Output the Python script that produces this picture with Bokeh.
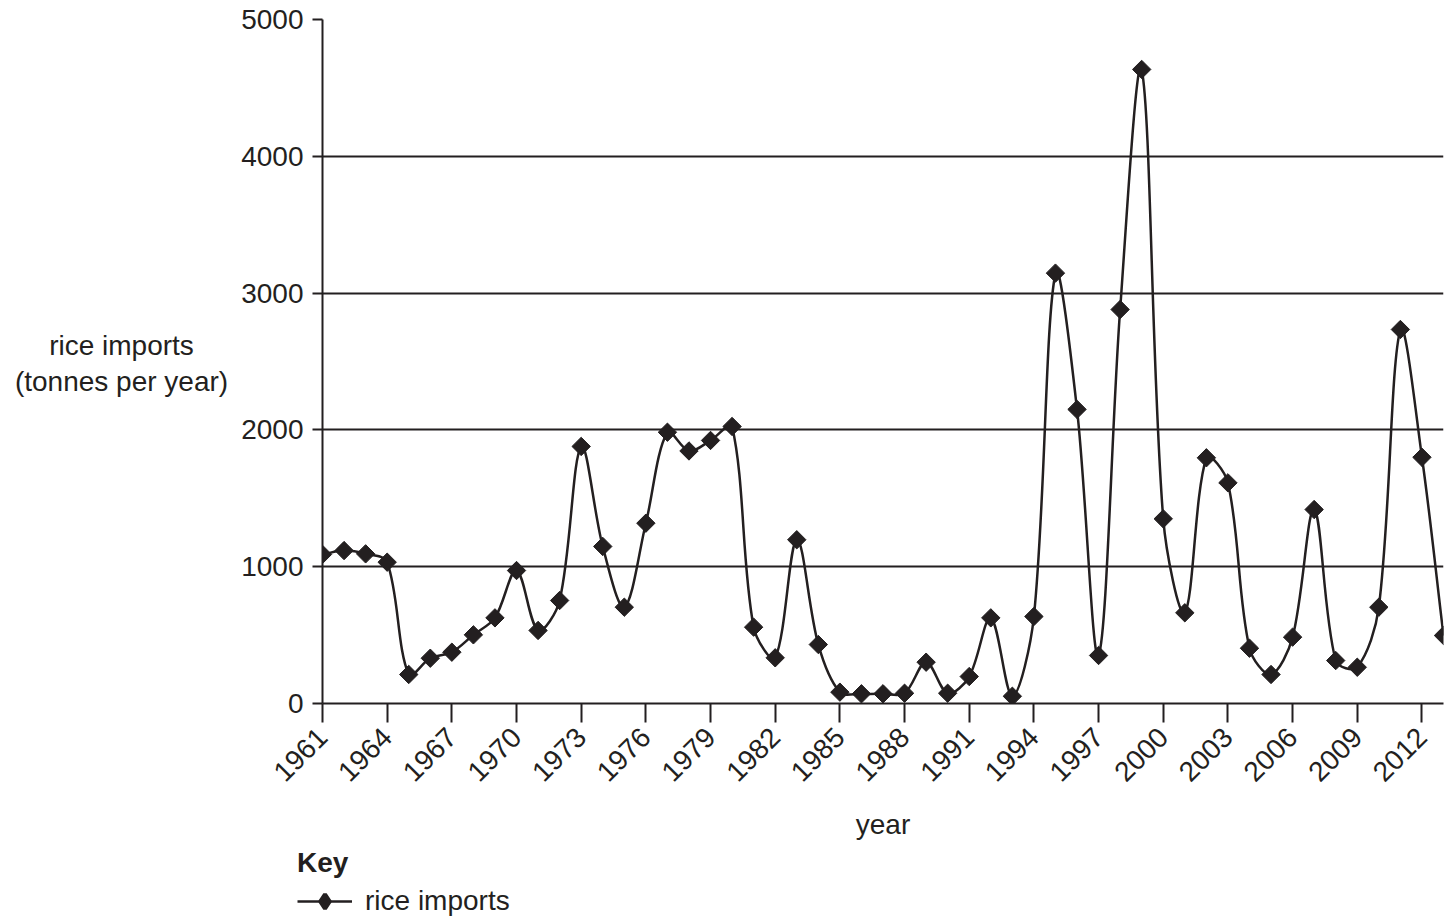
import numpy as np
from bokeh.plotting import figure
from bokeh.layouts import column, row
from bokeh.models import FixedTicker, Legend, LegendItem, Label, Range1d, ColumnDataSource
from bokeh.embed import file_html
from bokeh.resources import INLINE

# ---- data ----
years = list(range(1961, 2014))
rice_imports = [1090, 1118, 1094, 1033, 212, 331, 375, 502, 626, 972,
                534, 753, 1879, 1148, 704, 1318, 1983, 1846, 1923, 2025,
                558, 334, 1197, 431, 83, 71, 71, 75, 302, 75,
                197, 626, 53, 636, 3146, 2150, 351, 2880, 4635, 1350,
                663, 1796, 1613, 404, 212, 485, 1418, 314, 265, 704,
                2734, 1800, 497]
x_tick_years = list(range(1961, 2013, 3))
y_ticks = [0, 1000, 2000, 3000, 4000, 5000]
series_name = "rice imports"
x_title = "year"
y_title_lines = ["rice imports", "(tonnes per year)"]
key_title = "Key"

INK = "#231f20"
FONT = "Liberation Sans"
FS = "28px"

W = 1447
H_MAIN, H_KEY = 847, 72
W_YLAB = 238
FL, FT, FB, FR = 322, 19, 703, 1443   # frame edges in page pixels


def clean(fig):
    fig.outline_line_color = None
    fig.background_fill_color = "white"
    fig.border_fill_color = "white"


# ---- y-axis title panel (horizontal, centred two-line title) ----
ylab = figure(width=W_YLAB, height=H_MAIN, output_backend="svg", toolbar_location=None,
              x_axis_location=None, y_axis_location=None,
              x_range=Range1d(0, 1), y_range=Range1d(0, 1),
              min_border_left=0, min_border_right=0, min_border_top=FT,
              min_border_bottom=H_MAIN - FB)
clean(ylab)
ylab.grid.visible = False
for txt, yy in zip(y_title_lines, [FB - 345, FB - 381]):
    ylab.add_layout(Label(x=121, y=yy, x_units="screen", y_units="screen", text=txt,
                          text_align="center", text_baseline="middle",
                          text_font=FONT, text_font_size=FS, text_color=INK))

# ---- main chart ----
p = figure(width=W - W_YLAB, height=H_MAIN, output_backend="svg", toolbar_location=None,
           x_range=Range1d(1961, 2013), y_range=Range1d(0, 5000),
           min_border_left=60, min_border_right=W - FR, min_border_top=FT,
           min_border_bottom=H_MAIN - FB)
clean(p)

p.xgrid.visible = False
p.ygrid.ticker = FixedTicker(ticks=y_ticks)
p.ygrid.grid_line_color = INK
p.ygrid.grid_line_width = 2

for ax in (p.xaxis[0], p.yaxis[0]):
    ax.axis_line_color = INK
    ax.axis_line_width = 2
    ax.major_tick_line_color = INK
    ax.major_tick_line_width = 2
    ax.minor_tick_line_color = None
    ax.major_tick_in = 0
    ax.major_label_text_font = FONT
    ax.major_label_text_font_size = FS
    ax.major_label_text_color = INK
    ax.axis_label_text_font = FONT
    ax.axis_label_text_font_size = FS
    ax.axis_label_text_font_style = "normal"
    ax.axis_label_text_color = INK

p.xaxis.ticker = FixedTicker(ticks=x_tick_years)
p.yaxis.ticker = FixedTicker(ticks=y_ticks)
p.xaxis.major_label_orientation = np.pi / 4
p.xaxis.major_tick_out = 19
p.xaxis.major_label_standoff = 10
p.yaxis.major_tick_out = 10
p.yaxis.major_label_standoff = 9
p.xaxis.axis_label = x_title
p.xaxis.axis_label_standoff = 16

# smoothed line: cubic Bezier segments through the data points
x = np.array(years, dtype=float)
y = np.array(rice_imports, dtype=float)
sx_per = (FR - FL) / (2013 - 1961)
sy_per = (FB - FT) / 5000.0
qx = np.concatenate([[x[0]], x, [x[-1]]])
qy = np.concatenate([[y[0]], y, [y[-1]]])
d = np.hypot(np.diff(qx) * sx_per, np.diff(qy) * sy_per)
n = len(x)
cx0, cy0, cx1, cy1 = [], [], [], []
for i in range(n - 1):
    dp, dn = d[i], d[i + 1]
    f = (dn / (dp + dn)) / 3.0 if (dp + dn) > 0 else 0.0
    cx0.append(x[i] + (qx[i + 2] - qx[i]) * f)
    cy0.append(y[i] + (qy[i + 2] - qy[i]) * f)
    dp, dn = d[i + 1], d[i + 2]
    f = (dp / (dp + dn)) / 3.0 if (dp + dn) > 0 else 0.0
    cx1.append(x[i + 1] - (qx[i + 3] - qx[i + 1]) * f)
    cy1.append(y[i + 1] - (qy[i + 3] - qy[i + 1]) * f)

seg = ColumnDataSource(dict(x0=x[:-1], y0=y[:-1], x1=x[1:], y1=y[1:],
                            cx0=cx0, cy0=cy0, cx1=cx1, cy1=cy1))
p.bezier(x0="x0", y0="y0", x1="x1", y1="y1", cx0="cx0", cy0="cy0",
         cx1="cx1", cy1="cy1", source=seg, line_color=INK, line_width=2.5)
p.scatter(x=years, y=rice_imports, marker="square", angle=np.pi / 4,
          size=13, fill_color=INK, line_color=INK)

# ---- key (legend) below the chart ----
k = figure(width=W, height=H_KEY, output_backend="svg", toolbar_location=None,
           x_axis_location=None, y_axis_location=None,
           x_range=Range1d(0, 1), y_range=Range1d(0, 1),
           min_border_left=0, min_border_right=0, min_border_top=0, min_border_bottom=0)
clean(k)
k.grid.visible = False
# same series; outside this panel's ranges, so only its legend sample shows
key_line = k.line(x=years, y=rice_imports, line_color=INK, line_width=2.5)
key_pt = k.scatter(x=years, y=rice_imports, marker="diamond", size=13,
                   fill_color=INK, line_color=INK, line_width=4)
legend = Legend(items=[LegendItem(label=series_name, renderers=[key_line, key_pt])],
                location=(297, 0), orientation="vertical",
                title=key_title, title_text_font=FONT, title_text_font_size=FS,
                title_text_font_style="bold", title_text_color=INK,
                title_standoff=4,
                label_text_font=FONT, label_text_font_size=FS,
                label_text_color=INK, label_standoff=13,
                glyph_width=55, glyph_height=36, label_height=32,
                padding=0, spacing=0, margin=0,
                border_line_color=None, background_fill_alpha=0)
k.add_layout(legend)

layout = column(row(ylab, p, spacing=0), k, spacing=0)
open("out.html", "w").write(file_html(layout, INLINE))
